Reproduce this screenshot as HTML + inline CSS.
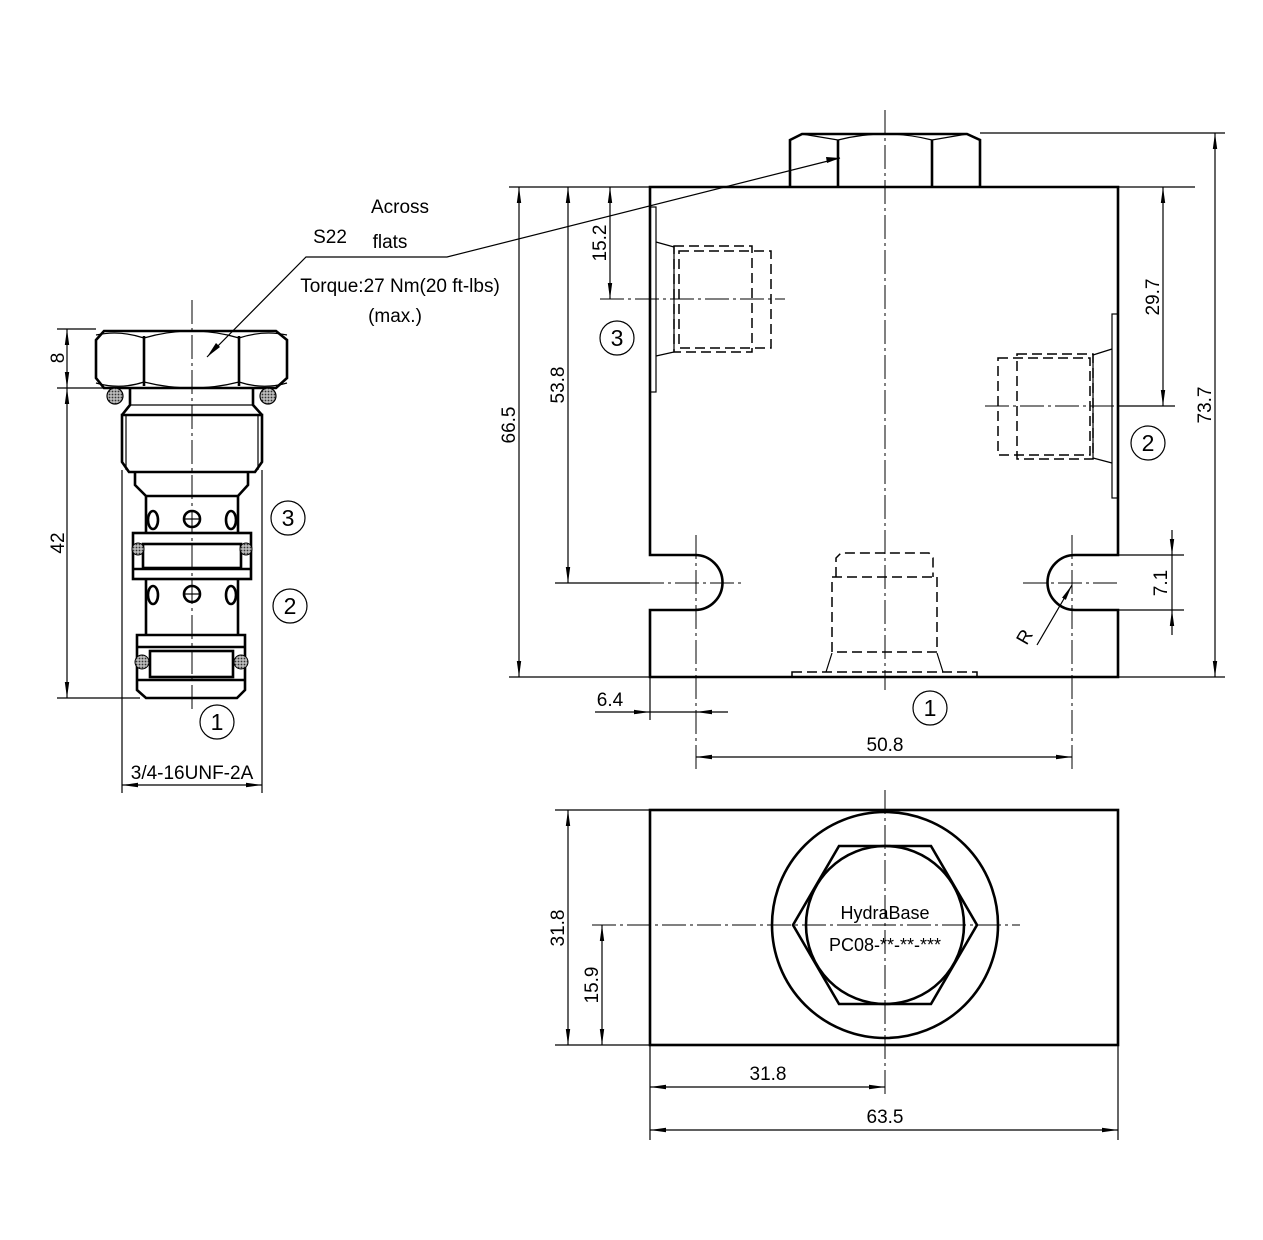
<!DOCTYPE html>
<html><head><meta charset="utf-8"><style>
html,body{margin:0;padding:0;background:#fff}
svg{display:block}
text{font-family:"Liberation Sans Narrow","Liberation Sans",sans-serif;font-size:19px;fill:#000}
.cn{font-size:23px}
.t{stroke:#000;stroke-width:2.6;fill:none}
.n{stroke:#000;stroke-width:1.2;fill:none}
.c{stroke:#000;stroke-width:1;fill:none;stroke-dasharray:24 4 3 4}
.d{stroke:#000;stroke-width:1.5;fill:none;stroke-dasharray:10 5}
</style></head><body>
<svg width="1263" height="1240" viewBox="0 0 1263 1240" xmlns="http://www.w3.org/2000/svg">
<defs>
<marker id="a" markerWidth="16" markerHeight="6" refX="16" refY="3" orient="auto-start-reverse" markerUnits="userSpaceOnUse"><path d="M0,0.8 L16,3 L0,5.2 Z" fill="#000"/></marker>
<pattern id="h" width="3" height="3" patternUnits="userSpaceOnUse"><rect width="3" height="3" fill="#bbb"/><circle cx="1.5" cy="1.5" r="0.9" fill="#333"/></pattern>
</defs>

<!-- ============ CARTRIDGE ============ -->
<line class="c" x1="192" y1="300" x2="192" y2="710"/>
<path class="t" d="M104,331 L276,331 L287,340 L287,378 L276,388 L104,388 L96,378 L96,340 Z"/>
<line class="t" x1="144" y1="336" x2="144" y2="386"/>
<line class="t" x1="239" y1="336" x2="239" y2="386"/>
<path class="n" d="M96,335 Q120,330 144,338 Q192,324 239,338 Q263,330 287,335"/>
<path class="n" d="M96,383 Q120,390 144,382 Q192,394 239,382 Q263,390 287,383"/>
<circle cx="115" cy="396" r="8" fill="url(#h)" stroke="#000" stroke-width="1.2"/>
<circle cx="268" cy="396" r="8" fill="url(#h)" stroke="#000" stroke-width="1.2"/>
<path class="t" d="M130,388 L130,405 L122,415 M253,388 L253,405 L262,415"/>
<line class="n" x1="130" y1="405" x2="253" y2="405"/>
<path class="t" d="M122,415 L262,415 L262,462 L255,472 L129,472 L122,462 Z"/>
<line class="n" x1="126" y1="416" x2="126" y2="470"/>
<line class="n" x1="258" y1="416" x2="258" y2="470"/>
<path class="t" d="M135,472 L135,485 L146,496 L238,496 L248,485 L248,472"/>
<path class="t" d="M146,496 L146,533 M238,496 L238,533"/>
<ellipse class="t" cx="153" cy="520" rx="5" ry="9"/>
<ellipse class="t" cx="231" cy="520" rx="5" ry="9"/>
<circle class="t" cx="192" cy="519" r="8"/>
<line class="n" x1="184" y1="519" x2="200" y2="519"/>
<rect class="t" x="133" y="533" width="118" height="46"/>
<line class="t" x1="133" y1="569" x2="251" y2="569"/>
<rect class="t" x="143" y="544" width="98" height="24"/>
<circle cx="138" cy="549" r="6" fill="url(#h)" stroke="#000" stroke-width="1"/>
<circle cx="246" cy="549" r="6" fill="url(#h)" stroke="#000" stroke-width="1"/>
<path class="t" d="M146,579 L146,635 M238,579 L238,635"/>
<ellipse class="t" cx="153" cy="595" rx="5" ry="9"/>
<ellipse class="t" cx="231" cy="595" rx="5" ry="9"/>
<circle class="t" cx="192" cy="594" r="8"/>
<line class="n" x1="184" y1="594" x2="200" y2="594"/>
<path class="t" d="M137,635 L245,635 L245,690 L237,698 L146,698 L137,690 Z"/>
<line class="t" x1="137" y1="647" x2="245" y2="647"/>
<line class="t" x1="137" y1="680" x2="245" y2="680"/>
<rect class="t" x="150" y="651" width="83" height="26"/>
<circle cx="142" cy="662" r="7" fill="url(#h)" stroke="#000" stroke-width="1"/>
<circle cx="241" cy="662" r="7" fill="url(#h)" stroke="#000" stroke-width="1"/>
<line class="n" x1="57" y1="329" x2="96" y2="329"/>
<line class="n" x1="57" y1="388" x2="110" y2="388"/>
<line class="n" x1="57" y1="698" x2="140" y2="698"/>
<line class="n" x1="67" y1="329" x2="67" y2="388" marker-start="url(#a)" marker-end="url(#a)"/>
<line class="n" x1="67" y1="388" x2="67" y2="698" marker-start="url(#a)" marker-end="url(#a)"/>
<text transform="translate(64,358) rotate(-90)" text-anchor="middle">8</text>
<text transform="translate(64,543) rotate(-90)" text-anchor="middle">42</text>
<line class="n" x1="122" y1="470" x2="122" y2="793"/>
<line class="n" x1="262" y1="470" x2="262" y2="793"/>
<line class="n" x1="122" y1="785" x2="262" y2="785" marker-start="url(#a)" marker-end="url(#a)"/>
<text x="192" y="779" text-anchor="middle">3/4-16UNF-2A</text>
<circle class="n" cx="288" cy="518" r="17"/><text class="cn" x="288" y="526" text-anchor="middle">3</text>
<circle class="n" cx="290" cy="606" r="17"/><text class="cn" x="290" y="614" text-anchor="middle">2</text>
<circle class="n" cx="217" cy="722" r="17"/><text class="cn" x="217" y="730" text-anchor="middle">1</text>

<polyline class="n" points="207,357 306,257 447,257 840,158"/>
<path d="M207,357 L216,343 L220,347 Z" fill="#000"/>
<path d="M840,158 L826,157 L827,163 Z" fill="#000"/>
<text x="400" y="213" text-anchor="middle">Across</text>
<text x="330" y="243" text-anchor="middle">S22</text>
<text x="390" y="248" text-anchor="middle">flats</text>
<text x="400" y="292" text-anchor="middle">Torque:27 Nm(20 ft-lbs)</text>
<text x="395" y="322" text-anchor="middle">(max.)</text>

<!-- ============ BLOCK SIDE VIEW ============ -->
<line class="c" x1="885" y1="110" x2="885" y2="690"/>
<path class="t" d="M650,187 L1118,187 L1118,555 L1075,555 A27,27 0 0 0 1075,610 L1118,610 L1118,677 L650,677 L650,610 L695,610 A27,27 0 0 0 695,555 L650,555 Z"/>
<path class="t" d="M790,187 L790,140 L802,134 L967,134 L980,140 L980,187"/>
<line class="t" x1="838" y1="140" x2="838" y2="187"/>
<line class="t" x1="932" y1="140" x2="932" y2="187"/>
<path class="n" d="M802,134 L838,140 Q885,128 932,140 L967,134"/>
<rect class="n" x="650" y="207" width="6" height="185"/>
<path class="n" d="M656,242 L674,247 L674,352 L656,356"/>
<rect class="d" x="674" y="246" width="78" height="106"/>
<rect class="d" x="679" y="251" width="92" height="97"/>
<line class="c" x1="600" y1="299" x2="785" y2="299"/>
<rect class="n" x="1112" y="314" width="6" height="184"/>
<path class="n" d="M1112,349 L1093,355 L1093,458 L1112,463"/>
<rect class="d" x="1017" y="354" width="76" height="105"/>
<rect class="d" x="998" y="358" width="92" height="97"/>
<line class="c" x1="985" y1="406" x2="1150" y2="406"/>
<path class="d" d="M836,577 L836,558 L841,553 L929,553 L933,558 L933,577"/>
<rect class="d" x="832" y="577" width="105" height="75"/>
<path class="n" d="M832,653 L826,672 M937,653 L943,672"/>
<rect class="d" x="792" y="672" width="185" height="5"/>
<line class="c" x1="640" y1="583" x2="745" y2="583"/>
<line class="c" x1="696" y1="535" x2="696" y2="770"/>
<line class="c" x1="1023" y1="583" x2="1121" y2="583"/>
<line class="c" x1="1072" y1="535" x2="1072" y2="770"/>
<line class="n" x1="1037" y1="645" x2="1072" y2="585" marker-end="url(#a)"/>
<text transform="translate(1030,640) rotate(-60)" text-anchor="middle">R</text>
<line class="n" x1="509" y1="187" x2="650" y2="187"/>
<line class="n" x1="509" y1="677" x2="650" y2="677"/>
<line class="n" x1="519" y1="187" x2="519" y2="677" marker-start="url(#a)" marker-end="url(#a)"/>
<text transform="translate(515,425) rotate(-90)" text-anchor="middle">66.5</text>
<line class="n" x1="555" y1="583" x2="650" y2="583"/>
<line class="n" x1="568" y1="187" x2="568" y2="583" marker-start="url(#a)" marker-end="url(#a)"/>
<text transform="translate(564,385) rotate(-90)" text-anchor="middle">53.8</text>
<line class="n" x1="610" y1="187" x2="610" y2="299" marker-start="url(#a)" marker-end="url(#a)"/>
<text transform="translate(606,243) rotate(-90)" text-anchor="middle">15.2</text>
<line class="n" x1="1118" y1="187" x2="1195" y2="187"/>
<line class="n" x1="1118" y1="406" x2="1175" y2="406"/>
<line class="n" x1="1163" y1="187" x2="1163" y2="406" marker-start="url(#a)" marker-end="url(#a)"/>
<text transform="translate(1159,297) rotate(-90)" text-anchor="middle">29.7</text>
<line class="n" x1="980" y1="133" x2="1225" y2="133"/>
<line class="n" x1="1118" y1="677" x2="1225" y2="677"/>
<line class="n" x1="1215" y1="133" x2="1215" y2="677" marker-start="url(#a)" marker-end="url(#a)"/>
<text transform="translate(1211,405) rotate(-90)" text-anchor="middle">73.7</text>
<line class="n" x1="1118" y1="555" x2="1184" y2="555"/>
<line class="n" x1="1118" y1="610" x2="1184" y2="610"/>
<line class="n" x1="1172" y1="530" x2="1172" y2="555" marker-end="url(#a)"/>
<line class="n" x1="1172" y1="635" x2="1172" y2="610" marker-end="url(#a)"/>
<line class="n" x1="1172" y1="555" x2="1172" y2="610"/>
<text transform="translate(1167,583) rotate(-90)" text-anchor="middle">7.1</text>
<line class="n" x1="650" y1="677" x2="650" y2="720"/>
<line class="n" x1="595" y1="712" x2="650" y2="712" marker-end="url(#a)"/>
<line class="n" x1="728" y1="712" x2="696" y2="712" marker-end="url(#a)"/>
<line class="n" x1="650" y1="712" x2="696" y2="712"/>
<text x="610" y="706" text-anchor="middle">6.4</text>
<line class="n" x1="696" y1="757" x2="1072" y2="757" marker-start="url(#a)" marker-end="url(#a)"/>
<text x="885" y="751" text-anchor="middle">50.8</text>
<circle class="n" cx="930" cy="708" r="17"/><text class="cn" x="930" y="716" text-anchor="middle">1</text>
<circle class="n" cx="617" cy="338" r="17"/><text class="cn" x="617" y="346" text-anchor="middle">3</text>
<circle class="n" cx="1148" cy="443" r="17"/><text class="cn" x="1148" y="451" text-anchor="middle">2</text>

<!-- ============ TOP VIEW ============ -->
<rect class="t" x="650" y="810" width="468" height="235"/>
<line class="c" x1="885" y1="790" x2="885" y2="1095"/>
<line class="c" x1="592" y1="925" x2="1020" y2="925"/>
<ellipse class="t" cx="885" cy="925" rx="113" ry="113"/>
<polygon class="t" points="793,925 839,846 931,846 977,925 931,1004 839,1004"/>
<circle class="t" cx="885" cy="925" r="79"/>
<text x="885" y="919" text-anchor="middle" style="font-size:18px">HydraBase</text>
<text x="885" y="951" text-anchor="middle" style="font-size:18px">PC08-**-**-***</text>
<line class="n" x1="555" y1="810" x2="650" y2="810"/>
<line class="n" x1="555" y1="1045" x2="650" y2="1045"/>
<line class="n" x1="568" y1="810" x2="568" y2="1045" marker-start="url(#a)" marker-end="url(#a)"/>
<text transform="translate(564,928) rotate(-90)" text-anchor="middle">31.8</text>
<line class="n" x1="602" y1="925" x2="602" y2="1045" marker-start="url(#a)" marker-end="url(#a)"/>
<text transform="translate(598,985) rotate(-90)" text-anchor="middle">15.9</text>
<line class="n" x1="650" y1="1045" x2="650" y2="1140"/>
<line class="n" x1="1118" y1="1045" x2="1118" y2="1140"/>
<line class="n" x1="650" y1="1087" x2="885" y2="1087" marker-start="url(#a)" marker-end="url(#a)"/>
<text x="768" y="1080" text-anchor="middle">31.8</text>
<line class="n" x1="650" y1="1130" x2="1118" y2="1130" marker-start="url(#a)" marker-end="url(#a)"/>
<text x="885" y="1123" text-anchor="middle">63.5</text>
</svg>
</body></html>
